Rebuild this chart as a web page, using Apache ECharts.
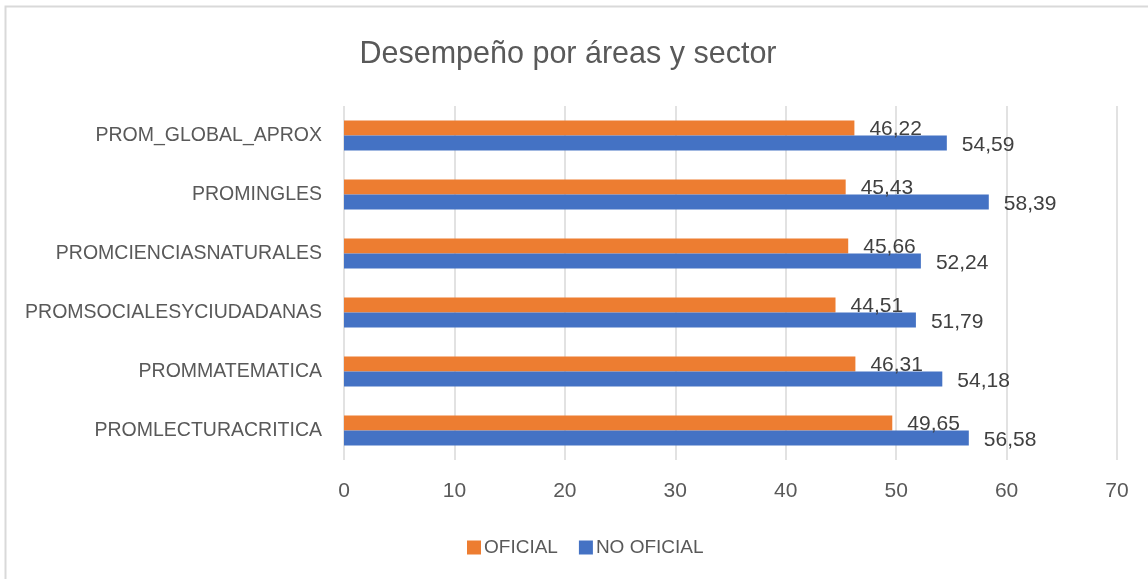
<!DOCTYPE html>
<html>
<head>
<meta charset="utf-8">
<script src="https://cdn.jsdelivr.net/npm/echarts@6/dist/echarts.min.js"></script>
<style>
  html, body { margin: 0; padding: 0; background: #fff; }
  #chart { width: 1148px; height: 579px; }
</style>
</head>
<body>
<div id="chart"></div>
<script>
// categories bottom -> top (category y axis starts at the bottom)
const categories = ['PROMLECTURACRITICA', 'PROMMATEMATICA', 'PROMSOCIALESYCIUDADANAS',
                    'PROMCIENCIASNATURALES', 'PROMINGLES', 'PROM_GLOBAL_APROX'];
const oficial   = [49.65, 46.31, 44.51, 45.66, 45.43, 46.22];
const noOficial = [56.58, 54.18, 51.79, 52.24, 58.39, 54.59];
const xTicks = [0, 10, 20, 30, 40, 50, 60, 70];

const FONT = '"Liberation Sans", sans-serif';
const fmt = p => p.value.toFixed(2).replace('.', ',');

window.addEventListener('DOMContentLoaded', function () {
    var chart = echarts.init(document.getElementById('chart'));

    var option = {
        backgroundColor: '#fff',
        textStyle: { fontFamily: FONT },
        animation: false,
        title: {
            text: 'Desempeño por áreas y sector',
            left: 563,
            textAlign: 'center',
            top: 34,
            textStyle: { fontFamily: FONT, fontSize: 30.5, fontWeight: 'normal', color: '#595959' }
        },
        graphic: [{
            type: 'rect',
            shape: { x: 5.5, y: 6.5, width: 1200, height: 700 },
            style: { fill: 'none', stroke: '#d9d9d9', lineWidth: 2 },
            silent: true
        }],
        legend: {
            data: ['OFICIAL', 'NO OFICIAL'],
            left: 462,
            top: 533,
            itemWidth: 14,
            itemHeight: 14,
            itemGap: 21,
            icon: 'rect',
            textStyle: { fontFamily: FONT, fontSize: 19, color: '#595959', padding: [0, 0, 0, -2] }
        },
        grid: { left: 344, right: 31, top: 106, bottom: 119, containLabel: false },
        xAxis: {
            type: 'value',
            min: xTicks[0],
            max: xTicks[xTicks.length - 1],
            interval: 10,
            axisLine: { show: false },
            axisTick: { show: false },
            axisLabel: { fontFamily: FONT, fontSize: 21, color: '#595959', margin: 21 },
            splitLine: { lineStyle: { color: '#d9d9d9', width: 1.5 } }
        },
        yAxis: {
            type: 'category',
            data: categories,
            axisLine: { show: false },
            axisTick: { show: false },
            axisLabel: { fontFamily: FONT, fontSize: 19.5, color: '#595959', margin: 22 }
        },
        series: [
            {
                name: 'OFICIAL',
                type: 'bar',
                data: oficial,
                barWidth: 15,
                barGap: '0%',
                itemStyle: { color: '#ED7D31' },
                label: { show: true, position: 'right', distance: 15, formatter: fmt,
                         fontFamily: FONT, fontSize: 21, color: '#404040', offset: [0, 1] }
            },
            {
                name: 'NO OFICIAL',
                type: 'bar',
                data: noOficial,
                barWidth: 15,
                barGap: '0%',
                itemStyle: { color: '#4472C4' },
                label: { show: true, position: 'right', distance: 15, formatter: fmt,
                         fontFamily: FONT, fontSize: 21, color: '#404040', offset: [0, 2] }
            }
        ]
    };

    chart.setOption(option);
}, false);
</script>
</body>
</html>
